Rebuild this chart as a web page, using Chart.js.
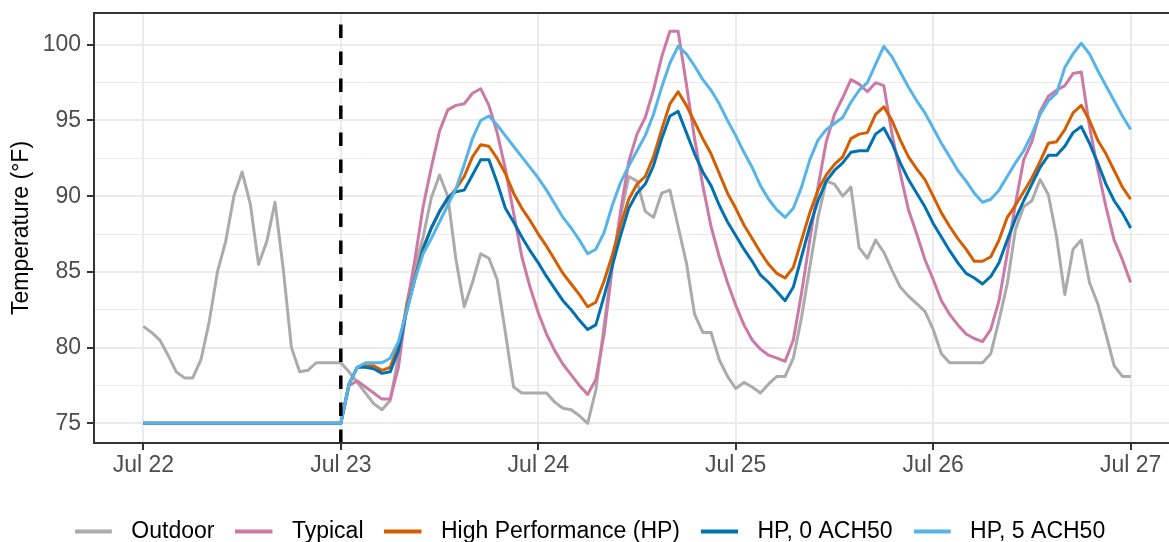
<!DOCTYPE html>
<html>
<head>
<meta charset="utf-8">
<script src="https://cdn.jsdelivr.net/npm/chart.js@4.4.1/dist/chart.umd.min.js"></script>
<style>
html,body{margin:0;padding:0;background:#fff;overflow:hidden}
#wrap{width:1169px;height:542px;overflow:hidden;position:relative;background:#fff}
canvas{display:block}
</style>
</head>
<body>
<div id="wrap"><canvas id="c" width="1200" height="553" style="width:1200px;height:553px"></canvas></div>
<script>
// ---- data (hours since Jul 22 00:00) ----
const HOURS = [0,1,2,3,4,5,6,7,8,9,10,11,12,13,14,15,16,17,18,19,20,21,22,23,24,
25,26,27,28,29,30,31,32,33,34,35,36,37,38,39,40,41,42,43,44,45,46,47,48,
49,50,51,52,53,54,55,56,57,58,59,60,61,62,63,64,65,66,67,68,69,70,71,72,
73,74,75,76,77,78,79,80,81,82,83,84,85,86,87,88,89,90,91,92,93,94,95,96,
97,98,99,100,101,102,103,104,105,106,107,108,109,110,111,112,113,114,115,116,117,118,119,120];

const OUTDOOR = [81.4,81.0,80.5,79.5,78.4,78.0,78.0,79.2,81.7,85.0,87.0,90.0,91.6,89.5,85.5,87.0,89.6,85.2,80.0,78.4,78.5,79.0,79.0,79.0,79.0,
78.4,77.7,77.0,76.3,75.9,76.5,79.4,82.9,85.3,87.3,89.9,91.4,90.0,85.8,82.7,84.3,86.2,85.9,84.5,81.0,77.4,77.0,77.0,77.0,
77.0,76.4,76.0,75.9,75.5,75.0,77.2,81.5,85.5,88.7,91.3,91.0,89.0,88.6,90.2,90.4,88.0,85.6,82.2,81.0,81.0,79.2,78.1,77.3,
77.7,77.4,77.0,77.6,78.1,78.1,79.3,82.0,85.3,88.6,91.0,90.8,90.0,90.6,86.6,85.9,87.1,86.3,85.1,84.0,83.4,82.9,82.4,81.2,
79.6,79.0,79.0,79.0,79.0,79.0,79.6,81.8,84.2,87.8,89.3,89.7,91.1,90.1,87.3,83.5,86.5,87.1,84.3,82.9,80.9,78.8,78.1,78.1];

const TYPICAL = [75,75,75,75,75,75,75,75,75,75,75,75,75,75,75,75,75,75,75,75,75,75,75,75,75,
77.5,77.8,77.4,77.0,76.6,76.6,78.7,82.7,85.8,89.3,91.9,94.3,95.7,96.0,96.1,96.8,97.1,96.0,94.2,91.8,88.9,86.0,84.0,82.3,
80.9,79.8,78.9,78.2,77.5,76.9,77.9,80.9,85.3,89.0,92.3,94.1,95.2,97.0,99.2,100.9,100.9,97.4,93.8,90.7,88.0,86.0,84.3,82.8,
81.5,80.5,79.9,79.5,79.3,79.1,80.5,83.6,87.1,90.6,93.6,95.4,96.5,97.7,97.4,96.9,97.5,97.3,94.1,91.5,89.1,87.5,85.8,84.5,
83.1,82.2,81.5,80.9,80.6,80.4,81.2,83.1,86.2,89.5,92.4,93.6,95.6,96.6,97.0,97.3,98.1,98.2,94.6,91.8,89.3,87.1,85.8,84.3];

const HIGH_PERF = [75,75,75,75,75,75,75,75,75,75,75,75,75,75,75,75,75,75,75,75,75,75,75,75,75,
77.6,78.7,78.8,78.8,78.5,78.7,80.1,82.6,84.6,86.6,87.9,89.0,89.8,90.5,91.3,92.6,93.4,93.3,92.5,91.5,90.2,89.2,88.4,87.5,
86.7,85.8,84.9,84.2,83.5,82.7,83.0,84.4,86.1,88.1,89.8,90.8,91.3,92.6,94.4,96.1,96.9,96.0,94.9,93.8,92.8,91.5,90.2,89.2,
88.1,87.2,86.3,85.5,84.9,84.6,85.3,87.1,88.9,90.4,91.4,92.1,92.6,93.8,94.1,94.2,95.4,95.9,95.0,93.7,92.6,91.8,91.1,90.0,
88.9,88.0,87.2,86.5,85.7,85.7,86.0,87.1,88.6,89.4,90.3,91.2,92.3,93.5,93.6,94.4,95.5,96.0,95.0,93.7,92.8,91.7,90.6,89.8];

const HP_0ACH50 = [75,75,75,75,75,75,75,75,75,75,75,75,75,75,75,75,75,75,75,75,75,75,75,75,75,
77.6,78.7,78.7,78.6,78.3,78.4,79.8,82.4,84.5,86.5,87.9,89.0,89.9,90.3,90.4,91.4,92.4,92.4,90.9,89.2,88.3,87.3,86.4,85.6,
84.7,83.9,83.1,82.5,81.8,81.2,81.5,83.4,85.4,87.4,89.2,90.2,90.8,92.0,93.8,95.3,95.6,94.2,92.8,91.6,90.7,89.4,88.3,87.4,
86.5,85.7,84.8,84.3,83.7,83.1,84.0,86.0,88.0,89.7,91.0,91.7,92.2,92.9,93.0,93.0,94.1,94.5,93.5,92.2,91.1,90.2,89.3,88.2,
87.3,86.4,85.6,84.9,84.6,84.2,84.7,85.6,87.1,88.5,89.7,90.8,91.9,92.7,92.7,93.3,94.2,94.6,93.5,92.2,90.8,89.7,88.9,87.9];

const HP_5ACH50 = [75,75,75,75,75,75,75,75,75,75,75,75,75,75,75,75,75,75,75,75,75,75,75,75,75,
77.6,78.7,79.0,79.0,79.0,79.3,80.4,82.4,84.5,86.2,87.2,88.3,89.4,90.5,92.1,93.8,95.0,95.3,94.7,94.0,93.3,92.6,91.9,91.2,
90.4,89.5,88.6,87.9,87.1,86.2,86.5,87.6,89.4,90.9,92.0,93.0,94.0,95.4,97.2,98.8,99.9,99.4,98.6,97.7,97.0,96.1,95.0,94.0,
92.9,91.9,90.7,89.8,89.1,88.6,89.2,90.6,92.4,93.7,94.4,94.8,95.2,96.2,97.0,97.5,98.7,99.9,99.2,98.2,97.2,96.3,95.5,94.5,
93.5,92.6,91.7,91.0,90.2,89.6,89.8,90.4,91.3,92.2,93.0,94.1,95.4,96.3,96.8,98.5,99.4,100.1,99.4,98.3,97.3,96.3,95.3,94.4];

const SERIES_NAMES = ['Outdoor','Typical','High Performance (HP)','HP, 0 ACH50','HP, 5 ACH50'];
const SERIES_COLORS = ['#ABABAB','#CC79A7','#D55E00','#0072B2','#56B4E9'];
const X_TICK_HOURS = [0,24,48,72,96,120];
const X_TICK_LABELS = ['Jul 22','Jul 23','Jul 24','Jul 25','Jul 26','Jul 27'];
const Y_MAJOR = [75,80,85,90,95,100];
const Y_MINOR = [77.5,82.5,87.5,92.5,97.5];
const VLINE_HOUR = 24;
const X_MIN = -6, X_MAX = 126, Y_MIN = 73.7, Y_MAX = 102.1;

// ---- build ----
const FONT = '"Liberation Sans", Arial, sans-serif';
const FS = 23;
const SERIES_VALUES = [OUTDOOR, TYPICAL, HIGH_PERF, HP_0ACH50, HP_5ACH50];
const pts = arr => arr.map((v, i) => ({x: HOURS[i], y: v}));

function keyImage(color) {
  const c = document.createElement('canvas');
  c.width = 45; c.height = 6;
  const g = c.getContext('2d');
  g.fillStyle = color;
  g.fillRect(0, 1, 37, 4);
  return c;
}

const datasets = [];
datasets.push({
  label: '_vline',
  data: [{x: VLINE_HOUR, y: Y_MIN}, {x: VLINE_HOUR, y: Y_MAX}],
  borderColor: '#000000', borderWidth: 3.5, borderDash: [13.5, 13.5],
  pointRadius: 0, fill: false, tension: 0
});
for (let i = SERIES_NAMES.length - 1; i >= 0; i--) {
  datasets.push({
    label: SERIES_NAMES[i],
    data: pts(SERIES_VALUES[i]),
    borderColor: SERIES_COLORS[i],
    backgroundColor: SERIES_COLORS[i],
    borderWidth: 3,
    pointRadius: 0,
    tension: 0,
    fill: false,
    borderJoinStyle: 'round',
    borderCapStyle: 'butt'
  });
}

const panelBorder = {
  id: 'panelBorder',
  afterDatasetsDraw(chart) {
    const a = chart.chartArea, ctx = chart.ctx;
    ctx.save();
    ctx.strokeStyle = '#333333';
    ctx.lineWidth = 2;
    ctx.strokeRect(a.left, a.top, a.right - a.left, a.bottom - a.top);
    ctx.restore();
  }
};

new Chart(document.getElementById('c'), {
  type: 'line',
  data: { datasets },
  options: {
    responsive: false,
    animation: false,
    devicePixelRatio: 1,
    layout: { padding: { top: 13, right: 20, left: 0, bottom: 0 } },
    plugins: {
      tooltip: { enabled: false },
      legend: {
        position: 'bottom',
        align: 'center',
        labels: {
          usePointStyle: true,
          pointStyleWidth: 45,
          padding: 21,
          color: '#000000',
          font: { family: FONT, size: FS },
          generateLabels: () => SERIES_NAMES.map((n, i) => ({
            text: n,
            fillStyle: SERIES_COLORS[i],
            strokeStyle: SERIES_COLORS[i],
            lineWidth: 0,
            pointStyle: keyImage(SERIES_COLORS[i]),
            hidden: false,
            datasetIndex: SERIES_NAMES.length - i
          }))
        }
      }
    },
    scales: {
      x: {
        type: 'linear',
        min: X_MIN, max: X_MAX,
        afterBuildTicks: s => { s.ticks = X_TICK_HOURS.map(v => ({value: v})); },
        afterFit: s => { s.height = 56; s.paddingLeft = 0; s.paddingRight = 0; },
        ticks: {
          autoSkip: false, maxRotation: 0,
          color: '#4D4D4D', padding: 2,
          font: { family: FONT, size: FS },
          callback: v => X_TICK_LABELS[X_TICK_HOURS.indexOf(v)]
        },
        grid: { color: '#EBEBEB', lineWidth: 2, tickLength: 7, tickColor: '#333333', tickWidth: 2 },
        border: { display: false }
      },
      y: {
        type: 'linear',
        min: Y_MIN, max: Y_MAX,
        afterBuildTicks: s => { s.ticks = Y_MAJOR.concat(Y_MINOR).sort((a,b)=>a-b).map(v => ({value: v})); },
        afterFit: s => { s.width = 94; s.paddingTop = 0; s.paddingBottom = 0; },
        ticks: {
          color: '#4D4D4D', padding: 6,
          font: { family: FONT, size: FS },
          callback: v => Y_MAJOR.includes(v) ? String(v) : ''
        },
        grid: {
          color: '#EBEBEB',
          lineWidth: c => (c.tick && Y_MAJOR.includes(c.tick.value)) ? 2 : 1,
          tickColor: c => (c.tick && Y_MAJOR.includes(c.tick.value)) ? '#333333' : 'rgba(0,0,0,0)',
          tickLength: 7, tickWidth: 2
        },
        border: { display: false },
        title: {
          display: true, text: 'Temperature (°F)', color: '#000000',
          font: { family: FONT, size: FS },
          padding: { top: 8, bottom: 0 }
        }
      }
    }
  },
  plugins: [panelBorder]
});
</script>
</body>
</html>
